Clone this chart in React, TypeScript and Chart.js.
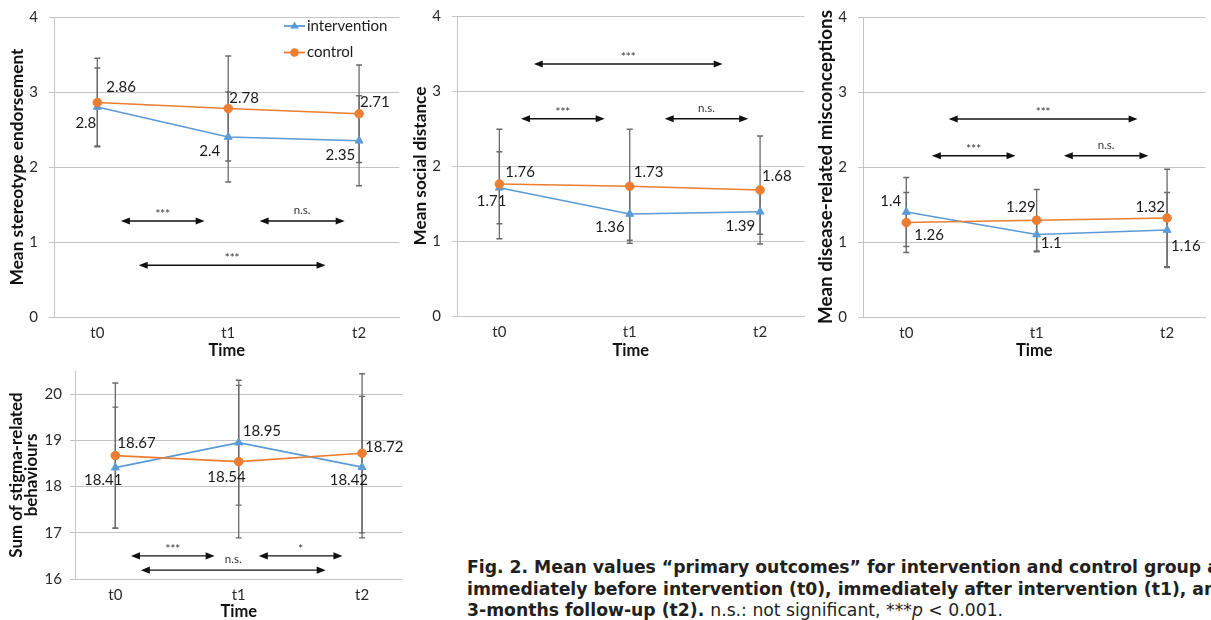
import React, { useEffect, useRef } from "react";
import { Chart, registerables } from "chart.js";

Chart.register(...registerables);

// ---------- data ----------
const timeLabels = ["t0", "t1", "t2"];
const seriesNames = ["intervention", "control"];
const timeAxisTitle = "Time";

const stereoTitle = "Mean stereotype endorsement";
const stereoIntervention = [2.8, 2.4, 2.35];
const stereoControl = [2.86, 2.78, 2.71];
const stereoInterventionSD = [0.52, 0.6, 0.6];
const stereoControlSD = [0.59, 0.7, 0.65];
const stereoSigLabels = ["***", "n.s.", "***"];

const distTitle = "Mean social distance";
const distIntervention = [1.71, 1.36, 1.39];
const distControl = [1.76, 1.73, 1.68];
const distInterventionSD = [0.48, 0.35, 0.3];
const distControlSD = [0.73, 0.76, 0.72];
const distSigLabels = ["***", "***", "n.s."];

const miscTitle = "Mean disease-related misconceptions";
const miscIntervention = [1.4, 1.1, 1.16];
const miscControl = [1.26, 1.29, 1.32];
const miscInterventionSD = [0.46, 0.23, 0.5];
const miscControlSD = [0.4, 0.41, 0.65];
const miscSigLabels = ["***", "***", "n.s."];

const behavTitle = ["Sum of stigma-related", "behaviours"];
const behavIntervention = [18.41, 18.95, 18.42];
const behavControl = [18.67, 18.54, 18.72];
const behavInterventionSD = [1.31, 1.35, 1.53];
const behavControlSD = [1.57, 1.65, 1.72];
const behavSigLabels = ["***", "*", "n.s."];

// ---------- styling / layout ----------
const BLUE = "#5B9BD5";
const ORANGE = "#ED7D31";
const GRID = "#c4c4c4";
const ERR = "#6a6a6a";
const FONT = "Lato";

type Place = [number, number, CanvasTextAlign];
type Arrow = { from: number; to: number; y: number };

interface Spec {
  key: string;
  left: number; top: number; width: number; height: number;
  yAxisWidth: number; xAxisHeight: number; padTop: number;
  xMin: number; xMax: number; yMin: number; yMax: number;
  yTitle: string | string[]; yTitleSize: number; yTitleLH: number; yTitlePad: number; yTickPad: number;
  xTitlePad: number; xTickPad: number;
  intervention: number[]; control: number[];
  interventionSD: number[]; controlSD: number[];
  sigLabels: string[]; arrows: Arrow[];
  placeInt: Place[]; placeCtl: Place[];
  legend: boolean;
}

const panels: Spec[] = [
  {
    key: "stereo", left: 0, top: 0, width: 405, height: 362,
    yAxisWidth: 54, xAxisHeight: 45, padTop: 17,
    xMin: -0.331, xMax: 2.308, yMin: 0, yMax: 4,
    yTitle: stereoTitle, yTitleSize: 17.3, yTitleLH: 1.2, yTitlePad: 6.6, yTickPad: 11, xTitlePad: 1.4, xTickPad: 7,
    intervention: stereoIntervention, control: stereoControl,
    interventionSD: stereoInterventionSD, controlSD: stereoControlSD,
    sigLabels: stereoSigLabels,
    arrows: [
      { from: 0.18, to: 0.82, y: 1.28 },
      { from: 1.24, to: 1.89, y: 1.28 },
      { from: 0.316, to: 1.744, y: 0.69 },
    ],
    placeInt: [[-1, 16, "right"], [-8, 14, "right"], [-4, 14, "right"]],
    placeCtl: [[9, -15, "left"], [1, -10, "left"], [1, -12, "left"]],
    legend: true,
  },
  {
    key: "dist", left: 405, top: 0, width: 405, height: 362,
    yAxisWidth: 52, xAxisHeight: 46, padTop: 16,
    xMin: -0.325, xMax: 2.34, yMin: 0, yMax: 4,
    yTitle: distTitle, yTitleSize: 17.2, yTitleLH: 1.2, yTitlePad: 4.7, yTickPad: 11, xTitlePad: 1.4, xTickPad: 7,
    intervention: distIntervention, control: distControl,
    interventionSD: distInterventionSD, controlSD: distControlSD,
    sigLabels: distSigLabels,
    arrows: [
      { from: 0.264, to: 1.713, y: 3.36 },
      { from: 0.166, to: 0.808, y: 2.63 },
      { from: 1.268, to: 1.909, y: 2.63 },
    ],
    placeInt: [[7, 13, "right"], [-5, 13, "right"], [-5, 14, "right"]],
    placeCtl: [[6, -12, "left"], [4, -14, "left"], [2, -14, "left"]],
    legend: false,
  },
  {
    key: "misc", left: 810, top: 0, width: 401, height: 362,
    yAxisWidth: 53, xAxisHeight: 45, padTop: 17,
    xMin: -0.332, xMax: 2.294, yMin: 0, yMax: 4,
    yTitle: miscTitle, yTitleSize: 18.8, yTitleLH: 1.2, yTitlePad: 4.7, yTickPad: 11, xTitlePad: 1.4, xTickPad: 7,
    intervention: miscIntervention, control: miscControl,
    interventionSD: miscInterventionSD, controlSD: miscControlSD,
    sigLabels: miscSigLabels,
    arrows: [
      { from: 0.325, to: 1.774, y: 2.64 },
      { from: 0.196, to: 0.838, y: 2.15 },
      { from: 1.208, to: 1.857, y: 2.15 },
    ],
    placeInt: [[-5, -11, "right"], [4, 9, "left"], [4, 16, "left"]],
    placeCtl: [[8, 13, "left"], [-1, -13, "right"], [-2, -11, "right"]],
    legend: false,
  },
  {
    key: "behav", left: 0, top: 362, width: 408, height: 272,
    yAxisWidth: 75, xAxisHeight: 55, padTop: 9,
    xMin: -0.327, xMax: 2.327, yMin: 16, yMax: 20.5,
    yTitle: behavTitle, yTitleSize: 16.9, yTitleLH: 0.88, yTitlePad: 9.5, yTickPad: 8, xTitlePad: 12.4, xTickPad: 7,
    intervention: behavIntervention, control: behavControl,
    interventionSD: behavInterventionSD, controlSD: behavControlSD,
    sigLabels: behavSigLabels,
    arrows: [
      { from: 0.127, to: 0.805, y: 16.5 },
      { from: 1.163, to: 1.841, y: 16.5 },
      { from: 0.207, to: 1.705, y: 16.19 },
    ],
    placeInt: [[7, 13, "right"], [4, -11, "left"], [6, 13, "right"]],
    placeCtl: [[2, -12, "left"], [7, 16, "right"], [3, -6, "left"]],
    legend: false,
  },
];

function drawTriangle(ctx: CanvasRenderingContext2D, x: number, y: number, r: number) {
  const h = r * 1.5;
  ctx.beginPath();
  ctx.moveTo(x, y - h * 0.62);
  ctx.lineTo(x + r * 0.95, y + h * 0.38);
  ctx.lineTo(x - r * 0.95, y + h * 0.38);
  ctx.closePath();
  ctx.fill();
}

const decorPlugin = {
  id: "decor",
  beforeDatasetsDraw(chart: any) {
    const spec: Spec = chart.options.plugins.decor.spec;
    const { ctx } = chart;
    const xs = chart.scales.x;
    const ys = chart.scales.y;
    ctx.save();
    ctx.strokeStyle = ERR;
    ctx.lineWidth = 1.3;
    const groups: [number[], number[]][] = [
      [spec.intervention, spec.interventionSD],
      [spec.control, spec.controlSD],
    ];
    groups.forEach(([means, sds]) => {
      means.forEach((m, i) => {
        const x = xs.getPixelForValue(i);
        const y1 = ys.getPixelForValue(m + sds[i]);
        const y2 = ys.getPixelForValue(m - sds[i]);
        ctx.beginPath();
        ctx.moveTo(x, y1); ctx.lineTo(x, y2);
        ctx.moveTo(x - 3, y1); ctx.lineTo(x + 3, y1);
        ctx.moveTo(x - 3, y2); ctx.lineTo(x + 3, y2);
        ctx.stroke();
      });
    });
    ctx.restore();
  },
  afterDatasetsDraw(chart: any) {
    const spec: Spec = chart.options.plugins.decor.spec;
    const { ctx } = chart;
    const xs = chart.scales.x;
    const ys = chart.scales.y;
    ctx.save();
    // value labels
    ctx.font = `15px ${FONT}`;
    ctx.fillStyle = "#1a1a1a";
    ctx.textBaseline = "middle";
    const lab = (vals: number[], places: Place[]) => {
      vals.forEach((v, i) => {
        const [dx, dy, al] = places[i];
        ctx.textAlign = al;
        ctx.fillText(String(v), xs.getPixelForValue(i) + dx, ys.getPixelForValue(v) + dy);
      });
    };
    lab(spec.intervention, spec.placeInt);
    lab(spec.control, spec.placeCtl);

    // significance arrows
    ctx.strokeStyle = "#111";
    ctx.fillStyle = "#111";
    ctx.lineWidth = 1.3;
    spec.arrows.forEach((a, k) => {
      const x1 = xs.getPixelForValue(a.from);
      const x2 = xs.getPixelForValue(a.to);
      const y = ys.getPixelForValue(a.y);
      const L = 9, W = 3.6;
      ctx.beginPath();
      ctx.moveTo(x1 + L - 1, y); ctx.lineTo(x2 - L + 1, y);
      ctx.stroke();
      ctx.beginPath();
      ctx.moveTo(x1, y); ctx.lineTo(x1 + L, y - W); ctx.lineTo(x1 + L, y + W); ctx.closePath();
      ctx.fill();
      ctx.beginPath();
      ctx.moveTo(x2, y); ctx.lineTo(x2 - L, y - W); ctx.lineTo(x2 - L, y + W); ctx.closePath();
      ctx.fill();
      const t = spec.sigLabels[k];
      ctx.font = `11.5px ${FONT}`;
      ctx.fillStyle = "#333";
      ctx.textAlign = "center";
      ctx.textBaseline = "alphabetic";
      const isStar = t.indexOf("*") >= 0;
      ctx.fillText(t, (x1 + x2) / 2, y - (isStar ? 3 : 7));
      ctx.fillStyle = "#111";
    });

    // legend
    if (spec.legend) {
      const rows: [string, string, string][] = [
        [seriesNames[0], BLUE, "tri"],
        [seriesNames[1], ORANGE, "circ"],
      ];
      rows.forEach(([name, col, shape], r) => {
        const y = 26 + r * 26.5;
        const lx1 = 284, lx2 = 305;
        ctx.strokeStyle = col;
        ctx.fillStyle = col;
        ctx.lineWidth = 1.8;
        ctx.beginPath(); ctx.moveTo(lx1, y); ctx.lineTo(lx2, y); ctx.stroke();
        if (shape === "tri") drawTriangle(ctx, (lx1 + lx2) / 2, y, 4.6);
        else { ctx.beginPath(); ctx.arc((lx1 + lx2) / 2, y, 4.3, 0, Math.PI * 2); ctx.fill(); }
        ctx.fillStyle = "#1a1a1a";
        ctx.font = `15px ${FONT}`;
        ctx.textAlign = "left";
        ctx.textBaseline = "middle";
        ctx.fillText(name, 307, y);
      });
    }
    ctx.restore();
  },
};

function buildConfig(spec: Spec): any {
  const pts = (arr: number[]) => arr.map((v, i) => ({ x: i, y: v }));
  return {
    type: "line",
    data: {
      datasets: [
        {
          label: seriesNames[0], data: pts(spec.intervention),
          borderColor: BLUE, backgroundColor: BLUE, borderWidth: 1.7,
          pointStyle: "triangle", pointRadius: 4.6, pointBorderWidth: 1, order: 1,
        },
        {
          label: seriesNames[1], data: pts(spec.control),
          borderColor: ORANGE, backgroundColor: ORANGE, borderWidth: 1.7,
          pointStyle: "circle", pointRadius: 4.3, pointBorderWidth: 1, order: 0,
        },
      ],
    },
    options: {
      animation: false,
      responsive: false,
      maintainAspectRatio: false,
      layout: { padding: { top: spec.padTop, left: 0, right: 0, bottom: 0 } },
      plugins: { legend: { display: false }, tooltip: { enabled: false }, decor: { spec } },
      scales: {
        x: {
          type: "linear", min: spec.xMin, max: spec.xMax,
          grid: { display: false, drawTicks: false },
          border: { display: true, color: GRID, width: 1 },
          afterBuildTicks: (s: any) => { s.ticks = timeLabels.map((_, i) => ({ value: i })); },
          afterFit: (s: any) => {
            s.height = spec.xAxisHeight;
            s.paddingLeft = 0; s.paddingRight = 0;
          },
          ticks: {
            callback: (v: any) => timeLabels[Math.round(v)] ?? "",
            font: { family: FONT, size: 15 }, color: "#2a2a2a", padding: spec.xTickPad,
            maxRotation: 0, autoSkip: false,
          },
          title: {
            display: true, text: timeAxisTitle, color: "#111",
            font: { family: FONT, size: 16.5, weight: "bold" },
            padding: { top: 0, bottom: spec.xTitlePad },
          },
        },
        y: {
          type: "linear", min: spec.yMin, max: spec.yMax,
          grid: { color: GRID, lineWidth: 1, drawTicks: true, tickLength: 5 },
          border: { display: true, color: GRID, width: 1 },
          afterBuildTicks: (s: any) => {
            s.ticks = s.ticks.filter((t: any) => Math.abs(t.value - Math.round(t.value)) < 1e-6);
          },
          afterFit: (s: any) => {
            s.width = spec.yAxisWidth;
            s.paddingTop = 0; s.paddingBottom = 0;
          },
          ticks: {
            stepSize: 1, font: { family: FONT, size: 15 }, color: "#2a2a2a", padding: spec.yTickPad,
          },
          title: {
            display: true, text: spec.yTitle, color: "#111",
            font: { family: FONT, size: spec.yTitleSize, weight: "bold", lineHeight: spec.yTitleLH },
            padding: { top: spec.yTitlePad, bottom: 0 },
          },
        },
      },
    },
    plugins: [decorPlugin],
  };
}

function Panel({ spec }: { spec: Spec }) {
  const ref = useRef<HTMLCanvasElement>(null);
  useEffect(() => {
    const chart = new Chart(ref.current as HTMLCanvasElement, buildConfig(spec));
    return () => chart.destroy();
  }, [spec]);
  return (
    <canvas
      ref={ref}
      width={spec.width}
      height={spec.height}
      style={{ position: "absolute", left: spec.left, top: spec.top, width: spec.width, height: spec.height }}
    />
  );
}

export default function App() {
  return (
    <div
      style={{
        position: "fixed", left: 0, top: 0, width: 1211, height: 620,
        overflow: "hidden", background: "#fff",
      }}
    >
      {panels.map((p) => (
        <Panel key={p.key} spec={p} />
      ))}
      <div
        style={{
          position: "absolute", left: 467, top: 557, whiteSpace: "nowrap",
          fontFamily: '"DejaVu Sans", Verdana, sans-serif', fontWeight: "bold", fontSize: 17.5,
          lineHeight: "21.5px", color: "#231f20",
          transform: "scaleX(0.985)", transformOrigin: "0 0",
        }}
      >
        <div>Fig. 2. Mean values “primary outcomes” for intervention and control group at</div>
        <div>immediately before intervention (t0), immediately after intervention (t1), and</div>
        <div>
          3-months follow-up (t2).{" "}
          <span style={{ fontWeight: "normal" }}>
            n.s.: not significant, ***<i>p</i> &lt; 0.001.
          </span>
        </div>
      </div>
    </div>
  );
}
